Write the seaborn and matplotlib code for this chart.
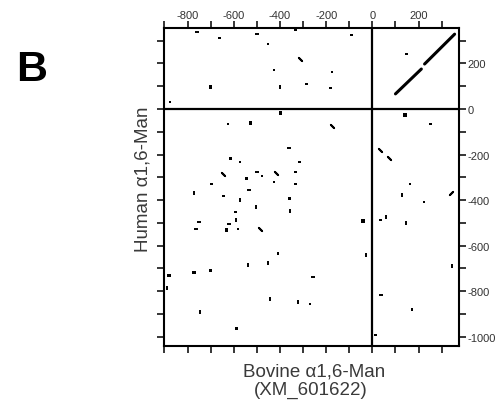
import matplotlib
matplotlib.use("Agg")
import matplotlib.pyplot as plt
import seaborn as sns
import pandas as pd
from matplotlib.ticker import MultipleLocator, FuncFormatter

# ---- data (read from the dot-plot) ----
dot_x = [-759, -661, -500, -452, -332, -91, -315, -426, -175, -401, -286, -182, 147,
         -701, -876, -397, 142, -527, -625, -175, 251, -361, -615, -574, -315, 32, 72,
         -500, -419, -332, -478, -544, -647, -697, -426, -332, 164, -535, -774, -644,
         -574, -358, 130, 342, 223, -505, -355, -592, -41, 35, 61, 147, -751, -622,
         -590, -488, -762, -632, -582, -409, -26, -539, -452, -257, 346, -880, -889,
         -772, -700, -445, -322, -271, 39, 171, -748, -589, 14]
dot_y = [336, 310, 328, 284, 345, 323, 218, 170, 163, 95, 109, 92, 240,
         97, 31, -17, -26, -61, -66, -76, -66, -172, -218, -233, -233, -182, -215,
         -275, -279, -276, -294, -306, -284, -329, -320, -329, -329, -354, -368, -381,
         -400, -393, -376, -367, -407, -429, -447, -451, -492, -488, -473, -499, -495, -503,
         -489, -527, -528, -531, -528, -634, -641, -684, -674, -739, -687, -732, -786,
         -717, -710, -833, -848, -855, -818, -879, -892, -962, -993]
dot_kind = ["h", "p", "h", "p", "p", "p", "d", "p", "p", "v", "p", "p", "p",
            "r", "p", "r", "r", "r", "p", "d", "p", "h", "r", "p", "p", "d", "d",
            "h", "d", "p", "p", "r", "d", "p", "p", "p", "p", "h", "v", "p",
            "v", "r", "v", "n", "p", "v", "v", "p", "r", "p", "v", "v", "h", "h",
            "v", "d", "h", "r", "p", "p", "v", "v", "v", "h", "v", "r", "v",
            "r", "r", "v", "v", "p", "h", "p", "v", "r", "p"]

diag_x = [100, 212, 226, 356]
diag_y = [66, 175, 197, 328]
diag_seg = [1, 1, 2, 2]

x_ticks_labels = [-800, -600, -400, -200, 0, 200]
y_ticks_labels = [200, 0, -200, -400, -600, -800, -1000]

dots = pd.DataFrame({"x": dot_x, "y": dot_y, "kind": dot_kind})
diag = pd.DataFrame({"x": diag_x, "y": diag_y, "seg": diag_seg})

# ---- figure ----
sns.set_style("ticks")
plt.rcParams["font.family"] = ["Liberation Sans", "DejaVu Sans"]

fig = plt.figure(figsize=(5.03, 4.06), dpi=100)
ax = fig.add_axes([164 / 503, 1 - 347 / 406, (459 - 164) / 503, (347 - 29) / 406])

markers = {"p": ("s", 3, 0.0), "r": ("s", 6, 0.0), "h": ("_", 8, 1.4),
           "v": ("|", 8, 1.4), "d": ((2, 2, 45), 11, 1.4), "n": ((2, 2, -45), 11, 1.4)}
for k, (m, s, lw) in markers.items():
    sub = dots[dots["kind"] == k]
    if len(sub) == 0:
        continue
    if lw == 0:
        sns.scatterplot(data=sub, x="x", y="y", marker=m, s=s, color="black",
                        edgecolor="none", ax=ax, legend=False, zorder=3)
    else:
        sns.scatterplot(data=sub, x="x", y="y", marker=m, s=s, color="black",
                        linewidth=lw, ax=ax, legend=False, zorder=3)

sns.lineplot(data=diag, x="x", y="y", units="seg", estimator=None, color="black",
             linewidth=2.2, ax=ax, legend=False, zorder=3)

ax.axhline(0, color="black", lw=1.6, zorder=2)
ax.axvline(0, color="black", lw=1.6, zorder=2)

ax.set_xlim(-902, 375)
ax.set_ylim(-1040, 355)

ax.xaxis.set_major_locator(MultipleLocator(100))
ax.yaxis.set_major_locator(MultipleLocator(100))
ax.xaxis.set_major_formatter(FuncFormatter(
    lambda v, p: str(int(round(v))) if int(round(v)) in x_ticks_labels else ""))
ax.yaxis.set_major_formatter(FuncFormatter(
    lambda v, p: str(int(round(v))) if int(round(v)) in y_ticks_labels else ""))

ax.tick_params(axis="x", top=True, bottom=True, labeltop=True, labelbottom=False,
               direction="out", length=5, width=1.3, labelsize=8, pad=1,
               labelcolor="#333333")
ax.tick_params(axis="y", left=True, right=True, labelleft=False, labelright=True,
               direction="out", length=5, width=1.3, labelsize=8, pad=1,
               labelcolor="#333333")
for sp in ax.spines.values():
    sp.set_visible(True)
    sp.set_linewidth(1.5)
    sp.set_color("black")
ax.set_xlabel("")
ax.set_ylabel("")

fig.text(143 / 503, 1 - 179 / 406, "Human \u03b11,6-Man", rotation=90,
         ha="center", va="center", fontsize=13.5, color="#3a3a3a")
fig.text(314 / 503, 1 - 372 / 406, "Bovine \u03b11,6-Man", ha="center", va="center",
         fontsize=13.5, color="#3a3a3a")
fig.text(311 / 503, 1 - 390 / 406, "(XM_601622)", ha="center", va="center",
         fontsize=13.5, color="#3a3a3a")
fig.text(32 / 503, 1 - 70 / 406, "B", ha="center", va="center", fontsize=31,
         fontweight="bold", color="black")

fig.savefig("out.png", dpi=100)
